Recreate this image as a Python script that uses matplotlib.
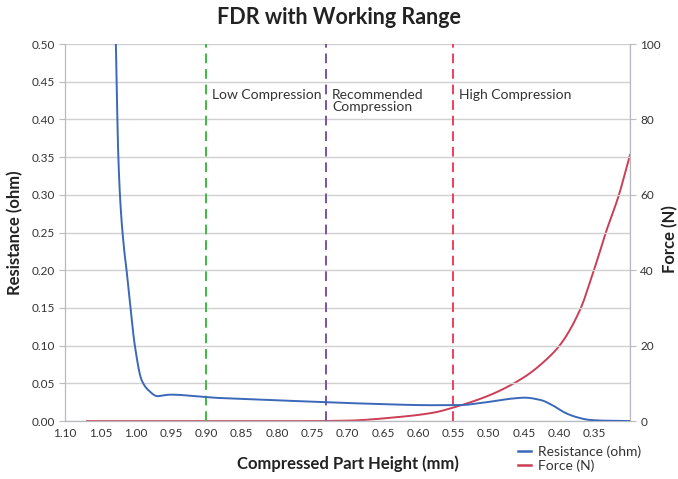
import matplotlib
matplotlib.use("Agg")
import matplotlib.pyplot as plt
from matplotlib.lines import Line2D
import numpy as np

plt.rcParams['font.family'] = ['Lato', 'DejaVu Sans']

# Resistance (ohm) vs compressed height (mm)
res_x = [1.028, 1.0245, 1.021, 1.016, 1.0112, 1.0009, 0.9914, 0.982, 0.969, 0.951,
         0.8805, 0.80, 0.725, 0.654, 0.58, 0.5407, 0.498, 0.465, 0.449, 0.427,
         0.406, 0.392, 0.375, 0.357, 0.33, 0.30]
res_y = [0.50, 0.35, 0.28, 0.225, 0.187, 0.0985, 0.054, 0.041, 0.033, 0.035,
         0.0305, 0.0275, 0.0248, 0.0225, 0.021, 0.0212, 0.0256, 0.030, 0.031, 0.028,
         0.019, 0.011, 0.005, 0.0015, 0.0003, 0.0]

# Force (N) vs compressed height (mm)
force_x = [1.069, 0.90, 0.75, 0.701, 0.626, 0.579, 0.548, 0.4982, 0.4486,
           0.418, 0.399, 0.371, 0.348, 0.333, 0.3165, 0.30]
force_y = [0.0, 0.0, 0.0, 0.1, 1.1, 2.2, 3.7, 6.9, 11.8,
           16.4, 20.2, 29.4, 41.8, 50.7, 59.5, 70.6]

# Working range markers
range_x = [0.90, 0.73, 0.55]
range_colors = ['#3dbb3d', '#7b52a6', '#ef3e5c']
range_labels = ['Low Compression', 'Recommended\nCompression', 'High Compression']

x_ticks = [1.10, 1.05, 1.00, 0.95, 0.90, 0.85, 0.80, 0.75, 0.70, 0.65,
           0.60, 0.55, 0.50, 0.45, 0.40, 0.35]
y_ticks = [0.00, 0.05, 0.10, 0.15, 0.20, 0.25, 0.30, 0.35, 0.40, 0.45, 0.50]
f_ticks = [0, 20, 40, 60, 80, 100]


def pchip(xs, ys):
    """Monotone cubic (Fritsch-Carlson) interpolation, returns dense curve."""
    x = np.asarray(xs, float)[::-1]
    y = np.asarray(ys, float)[::-1]
    h = np.diff(x)
    d = np.diff(y) / h
    m = np.zeros_like(x)
    for k in range(1, len(x) - 1):
        if d[k - 1] * d[k] <= 0:
            m[k] = 0.0
        else:
            w1 = 2 * h[k] + h[k - 1]
            w2 = h[k] + 2 * h[k - 1]
            m[k] = (w1 + w2) / (w1 / d[k - 1] + w2 / d[k])
    m[0] = d[0]
    m[-1] = d[-1]
    xs_out, ys_out = [], []
    for k in range(len(x) - 1):
        t = np.linspace(0, 1, 40, endpoint=False)
        hk = h[k]
        h00 = 2 * t ** 3 - 3 * t ** 2 + 1
        h10 = t ** 3 - 2 * t ** 2 + t
        h01 = -2 * t ** 3 + 3 * t ** 2
        h11 = t ** 3 - t ** 2
        xs_out.append(x[k] + t * hk)
        ys_out.append(h00 * y[k] + h10 * hk * m[k] + h01 * y[k + 1] + h11 * hk * m[k + 1])
    xs_out.append([x[-1]])
    ys_out.append([y[-1]])
    return np.concatenate(xs_out), np.concatenate(ys_out)


fig = plt.figure(figsize=(6.78, 4.79), dpi=100)
ax = fig.add_axes([0.0959, 0.121, 0.8333, 0.787])
ax2 = ax.twinx()

grid_c = '#d0d0d0'
spine_c = '#b8b8c0'

ax.set_xlim(1.10, 0.30)
ax.set_ylim(0, 0.5)
ax2.set_ylim(0, 100)

ax.set_xticks(x_ticks)
ax.set_xticklabels([f"{v:.2f}" for v in x_ticks])
ax.set_yticks(y_ticks)
ax.set_yticklabels([f"{v:.2f}" for v in y_ticks])
ax2.set_yticks(f_ticks)

ax.set_xticks(np.arange(0.30, 1.101, 0.05), minor=True)
ax.grid(True, which='minor', axis='x', color=grid_c, lw=1.0)
ax.grid(True, which='major', axis='y', color=grid_c, lw=1.0)
ax.tick_params(axis='x', which='minor', length=0)
ax.set_axisbelow(True)

for a in (ax, ax2):
    for s in a.spines.values():
        s.set_color(spine_c)
    a.spines['top'].set_visible(False)
ax.tick_params(axis='x', length=0, labelsize=8.5, colors='#333333', pad=5)
ax.tick_params(axis='y', length=4, color=spine_c, labelsize=8.5, labelcolor='#333333')
ax2.tick_params(axis='y', length=4, color=spine_c, labelsize=8.5, labelcolor='#333333')

rx, ry = pchip(res_x, res_y)
fx, fy = pchip(force_x, force_y)
ax2.plot(fx, fy, color='#cc3d56', lw=1.4, zorder=3)
ax.plot(rx, ry, color='#3b68b8', lw=1.4, zorder=4)
ax.set_zorder(ax2.get_zorder() + 1)
ax.patch.set_visible(False)

for xv, c, lab in zip(range_x, range_colors, range_labels):
    ax.axvline(xv, color=c, lw=1.4, ls=(0, (5, 3)), zorder=2)
    ax.text(xv - 0.008, 0.440, lab, color='#333333', fontsize=10,
            va='top', ha='left', linespacing=1.0)

ax.set_xlabel('Compressed Part Height (mm)', fontsize=12, fontweight='bold',
              color='#222222', labelpad=12)
ax.set_ylabel('Resistance (ohm)', fontsize=12, fontweight='bold', color='#222222',
              labelpad=6)
fig.text(670 / 678, 0.5, 'Force (N)', rotation=90, ha='center', va='center',
         fontsize=12, fontweight='bold', color='#222222')
fig.suptitle('FDR with Working Range', fontsize=15.5, fontweight='bold',
             color='#222222', y=0.985)

handles = [Line2D([0], [0], color='#3b68b8', lw=1.8),
           Line2D([0], [0], color='#cc3d56', lw=1.8)]
fig.legend(handles, ['Resistance (ohm)', 'Force (N)'], loc='lower left',
           bbox_to_anchor=(0.745, -0.012), frameon=False, fontsize=10,
           handlelength=1.0, handletextpad=0.5, labelspacing=0.15,
           labelcolor='#333333')

fig.savefig('out.png', dpi=100)
